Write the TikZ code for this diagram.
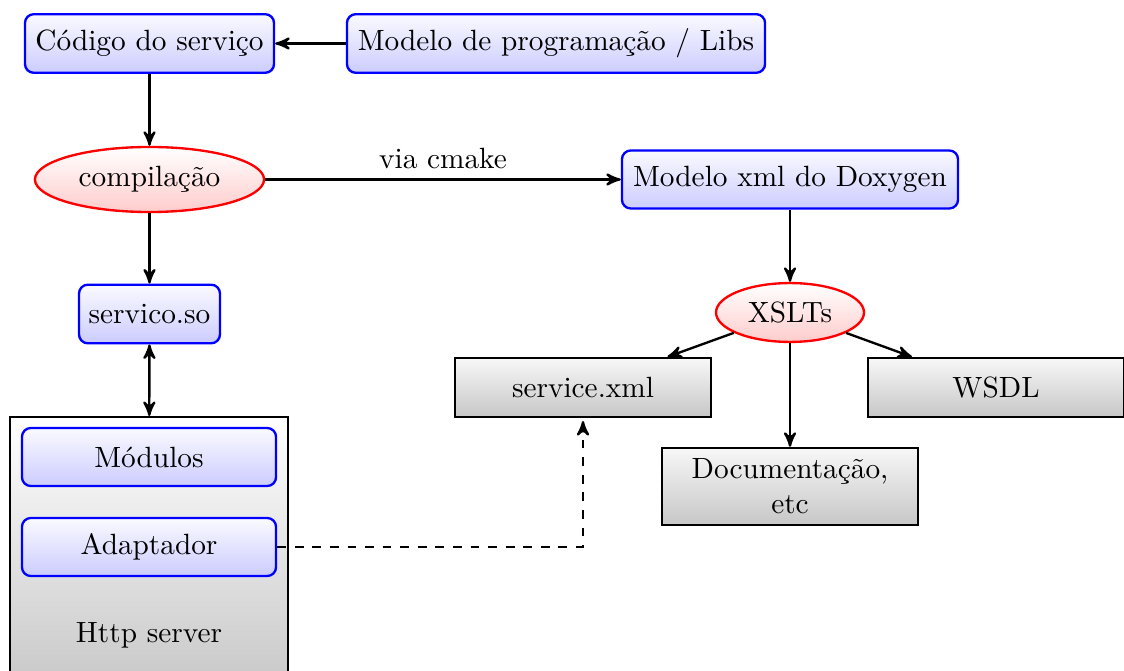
\documentclass[tikz,border=0pt]{standalone}
\usetikzlibrary{shapes.geometric,arrows}
\begin{document}
\begin{tikzpicture}[x=0.3413pt,y={(0pt,-0.3413pt)},
  bluebox/.style={draw=blue, thick, rounded corners=3pt, top color=blue!2, bottom color=blue!20,
    minimum height=20pt, inner sep=2pt},
  redell/.style={ellipse, draw=red, thick, top color=white, bottom color=red!20,
    minimum height=22pt, inner sep=0pt},
  graybox/.style={draw=black, thick, top color=black!3, bottom color=black!22,
    minimum height=20.1pt, inner sep=2pt},
  conn/.style={thick, -stealth'},
  biconn/.style={thick, stealth'-stealth'},
  dashconn/.style={thick, dashed, -stealth'}]
\useasboundingbox (0,0) rectangle (1124,671);

% compilation chain
\node[bluebox, minimum width=85pt] (codigo) at (149.5,43.5) {Código do serviço};
\node[bluebox, minimum width=142.7pt] (modelo) at (556,43.5) {Modelo de programação / Libs};
\node[redell, minimum width=78.2pt, minimum height=22.2pt] (compil) at (149.5,179.5) {compilação};
\node[bluebox, minimum width=48.1pt] (so) at (149.5,314) {servico.so};

% http server
\node[draw=black, thick, top color=white, bottom color=black!22, anchor=north,
  minimum width=94.9pt, minimum height=93.5pt, inner sep=0pt] (http) at (149,416) {};
\node[bluebox, minimum width=86.7pt, minimum height=19.8pt] (modulos) at (149,457) {Módulos};
\node[bluebox, minimum width=86.7pt, minimum height=19.8pt] (adapt) at (149,547) {Adaptador};
\node (httplabel) at (149,635) {Http server};

% documentation chain
\node[bluebox, minimum width=114.7pt, minimum height=19.8pt] (doxy) at (790,179.5) {Modelo xml do Doxygen};
\node[redell, minimum width=50.5pt, minimum height=20.1pt] (xslt) at (790,312.5) {XSLTs};
\node[graybox, minimum width=87.4pt] (svc) at (583,387.5) {service.xml};
\node[graybox, minimum width=87.4pt] (wsdl) at (996,387.5) {WSDL};
\node[graybox, minimum width=87.4pt, minimum height=26.3pt, align=center] (doc) at (790,486.5) {Documentação,\\etc};

% connectors
\draw[conn] (modelo) -- (codigo);
\draw[conn] (codigo) -- (compil);
\draw[conn] (compil) -- (so);
\draw[biconn] (so) -- (http);
\draw[conn] (compil) -- node[above] {via cmake} (doxy);
\draw[conn] (doxy) -- (xslt);
\draw[conn] (xslt) -- (svc);
\draw[conn] (xslt) -- (wsdl);
\draw[conn] (xslt) -- (doc);
\draw[dashconn, shorten >=1pt] (adapt.east) -| (svc.south);
\end{tikzpicture}
\end{document}
